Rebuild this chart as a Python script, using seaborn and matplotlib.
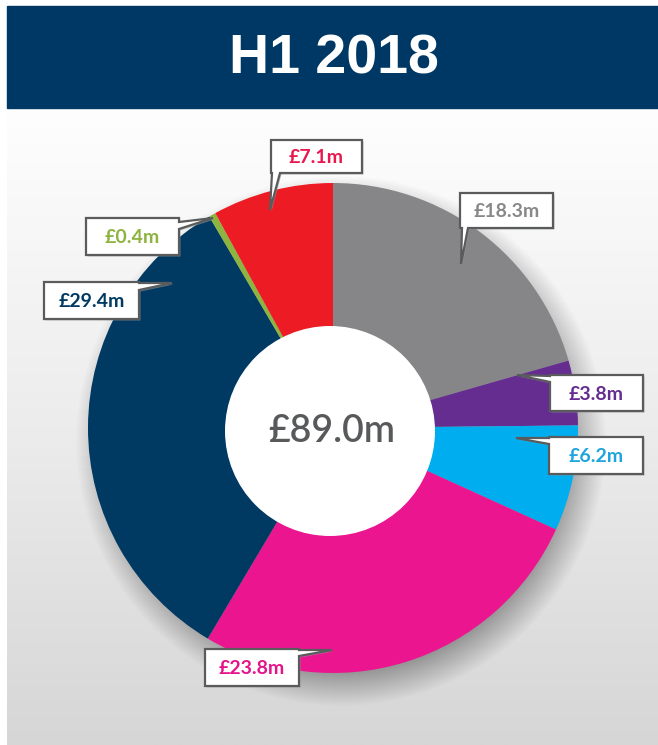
import numpy as np
import matplotlib.pyplot as plt
import matplotlib.patches as mpatches
from matplotlib.colors import LinearSegmentedColormap
import seaborn as sns

# values in GBP millions, clockwise from 12 o'clock
categories = ["Grey", "Purple", "Cyan", "Pink", "Navy", "Green", "Red"]
values = [18.3, 3.8, 6.2, 23.8, 29.4, 0.4, 7.1]
slice_colors = ["#868688", "#662d91", "#00aeef", "#ec1590", "#003a63", "#8cb43e", "#ed1c24"]
label_colors = ["#88888a", "#662d91", "#1ea5de", "#e5138a", "#003a63", "#8cb43e", "#e8174e"]
title = "H1 2018"
total_label = "£89.0m"
value_labels = [f"£{v:.1f}m" for v in values]

# callout layout in pixels (y down): box, side the tail leaves from, tail base, tail tip
callouts = [
    ((460, 193, 553, 228), "bottom", (462, 468), (461, 264)),
    ((550, 375, 643, 411), "left", (376, 382), (517, 375)),
    ((549, 437, 643, 474), "left", (438, 444), (516, 438)),
    ((205, 649, 299, 686), "right", (650, 656), (332, 650)),
    ((44, 282, 139, 319), "right", (283, 290), (172, 283)),
    ((86, 218, 179, 255), "right", (222, 229), (213, 218)),
    ((271, 140, 362, 173), "bottom", (272, 280), (270, 210)),
]

W, H = 658, 745
cx, cy, R = 333, 428, 245
hole_r = 105

sns.set_style("white")
plt.rcParams['font.family'] = ['Lato', 'DejaVu Sans']

fig = plt.figure(figsize=(W / 100, H / 100), dpi=100)
ax = fig.add_axes([0, 0, 1, 1])


def fy(y):
    return H - y


# background panel with vertical gradient
grad = np.linspace(0, 1, 256).reshape(-1, 1)
bg_cmap = LinearSegmentedColormap.from_list("bg", ["#fefefe", "#ececec", "#d6d6d6"])
ax.imshow(grad, cmap=bg_cmap, aspect="auto", extent=[7, W, 0, fy(108)], zorder=0)

# header banner
ax.add_patch(mpatches.Rectangle((7, fy(108)), W - 7, 102, color="#003865", zorder=1))
ax.text(334, fy(59), title, color="white", fontsize=40, fontweight="bold",
        family=["Liberation Sans", "DejaVu Sans"], ha="center", va="center", zorder=2)

# soft drop shadow under the pie
for k in range(36):
    r = R + 20 - k * 1.0
    ax.add_patch(mpatches.Circle((cx + 8, fy(cy + 13)), r, color="black",
                                 alpha=0.008, lw=0, zorder=2))

# the pie
wedges, _ = ax.pie(values, colors=sns.color_palette(slice_colors), startangle=90,
                   counterclock=False, center=(cx, fy(cy)), radius=R, frame=True,
                   wedgeprops=dict(linewidth=0))
for w in wedges:
    w.set_zorder(3)

# white centre
ax.add_patch(mpatches.Circle((cx - 3, fy(cy + 3)), hole_r, color="white", lw=0, zorder=4))
ax.text(cx - 1, fy(cy + 4), total_label, color="#58595b", fontsize=27,
        fontweight="semibold", ha="center", va="center", zorder=5)

# callouts
for (box, side, base, tip), lab, col in zip(callouts, value_labels, label_colors):
    x0, y0, x1, y1 = box
    a, b = base
    if side == "bottom":
        pts = [(x0, y0), (x1, y0), (x1, y1), (b, y1), tip, (a, y1), (x0, y1)]
    elif side == "right":
        pts = [(x0, y0), (x1, y0), (x1, a), tip, (x1, b), (x1, y1), (x0, y1)]
    else:
        pts = [(x0, y0), (x1, y0), (x1, y1), (x0, y1), (x0, b), tip, (x0, a)]
    shadow = [(px + 1.5, fy(py + 1.5)) for px, py in pts]
    ax.add_patch(mpatches.Polygon(shadow, closed=True, facecolor="#9a9a9a",
                                  edgecolor="none", alpha=0.6, zorder=6))
    poly = [(px, fy(py)) for px, py in pts]
    ax.add_patch(mpatches.Polygon(poly, closed=True, facecolor="white",
                                  edgecolor="#5a5b5d", lw=1.6, joinstyle="miter", zorder=7))
    ax.text((x0 + x1) / 2, fy((y0 + y1) / 2 + 1), lab, color=col, fontsize=14,
            fontweight="bold", ha="center", va="center", zorder=8)

ax.set_xlim(0, W)
ax.set_ylim(0, H)
ax.axis("off")

fig.savefig("out.png", dpi=100, facecolor="white")
